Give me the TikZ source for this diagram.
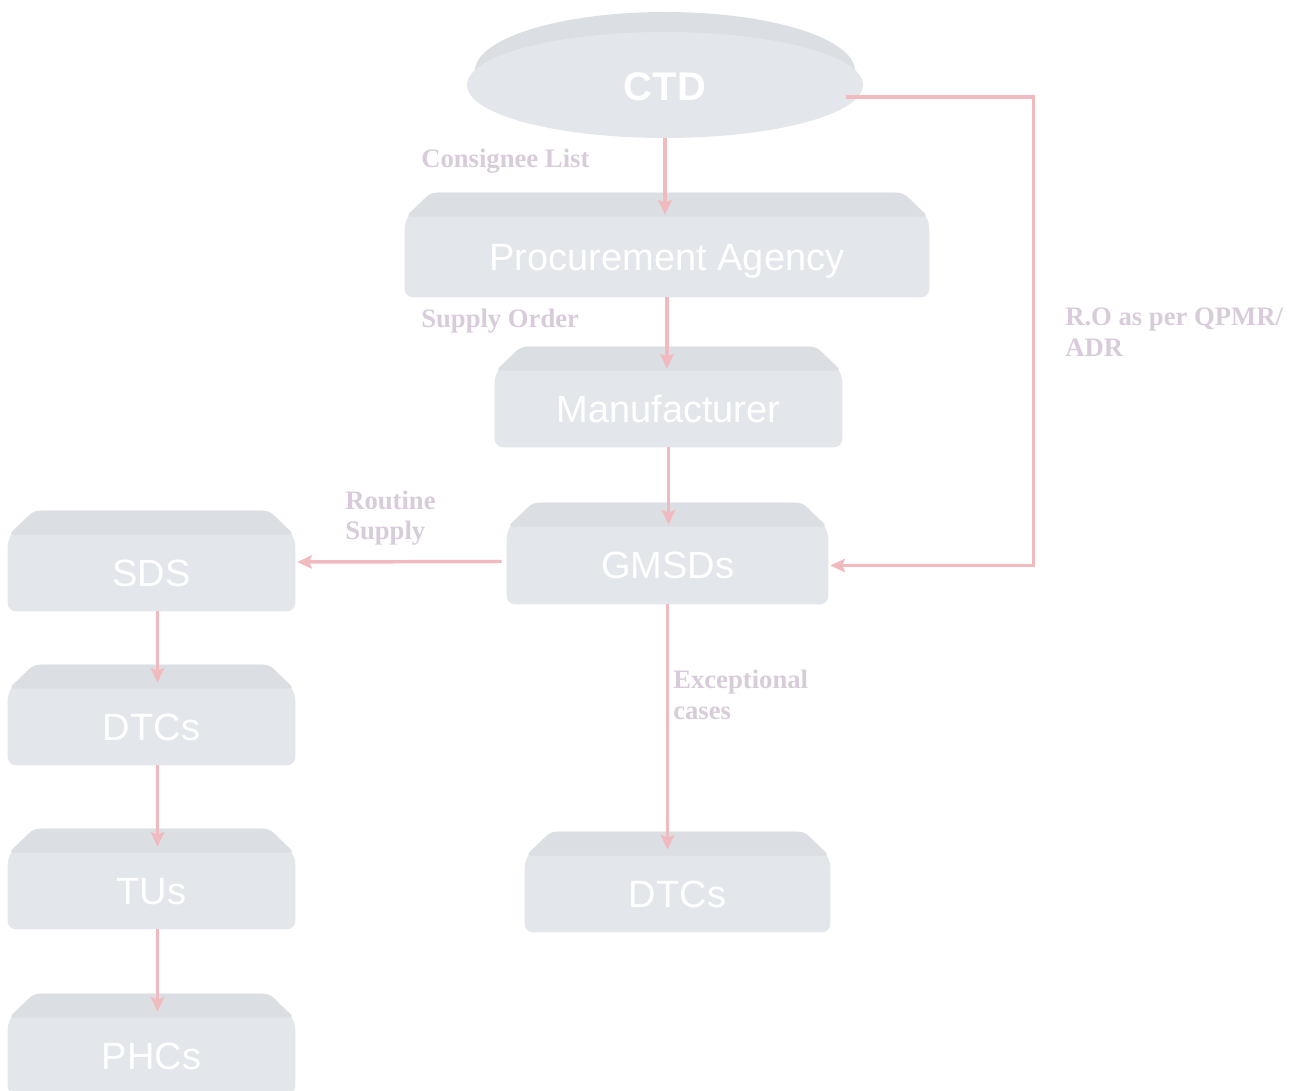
\documentclass[tikz,border=0pt]{standalone}
\usepackage{fontspec}
\setmainfont{Liberation Serif}
\newfontfamily\boxfont{Liberation Sans}
\usetikzlibrary{arrows.meta,calc,backgrounds,shapes.geometric}
\definecolor{boxbody}{RGB}{227,230,234}
\definecolor{boxtop}{RGB}{219,222,226}
\definecolor{arrowpink}{RGB}{241,186,190}
\definecolor{labelcol}{RGB}{216,204,218}
\tikzset{
 flowbox/.style={rectangle, inner sep=0pt, font=\boxfont\fontsize{28.5}{34}\selectfont, text=white, text height=44pt, text depth=6pt},
 ctdnode/.style={ellipse, inner sep=0pt, minimum width=297pt, minimum height=94.5pt, font=\boxfont\bfseries\fontsize{30}{36}\selectfont, text=white, text height=44pt, text depth=6pt},
 arr/.style={draw=arrowpink, line width=2.6pt, -{Stealth[length=11pt,width=10pt,inset=2pt]}},
 lab/.style={font=\bfseries\fontsize{20}{23}\selectfont, text=labelcol, align=left, inner sep=0pt, anchor=west},
}
\newcommand\flowshape[1]{%
 \fill[boxbody, rounded corners=6pt] (#1.south west) -- ($(#1.north west)+(0,27)$) -- ($(#1.north west)+(26,0)$) -- ($(#1.north east)+(-26,0)$) -- ($(#1.north east)+(0,27)$) -- (#1.south east) -- cycle;
 \fill[boxtop, rounded corners=4pt] ($(#1.north west)+(1,24)$) -- ($(#1.north west)+(26,0)$) -- ($(#1.north east)+(-26,0)$) -- ($(#1.north east)+(-1,24)$) -- cycle;
}
\newcommand\mkbox[6]{\node[flowbox, minimum width=#4*0.75pt, minimum height=#5*0.75pt] (#1) at (#2,#3) {#6};}
\begin{document}
\begin{tikzpicture}[x=0.75pt, y=-0.75pt]
\useasboundingbox (0,0) rectangle (1297,1091);
\node[ctdnode] (ctd) at (665,75) {CTD};
\mkbox{pa}{667}{245}{524}{104}{Procurement Agency}
\mkbox{mf}{668.5}{397}{347}{100}{Manufacturer}
\mkbox{gm}{667.5}{553.5}{321}{101}{GMSDs}
\mkbox{sds}{151.5}{561}{287}{100}{SDS}
\mkbox{dtl}{151.5}{715}{287}{100}{DTCs}
\mkbox{tus}{151.5}{879}{287}{100}{TUs}
\mkbox{phc}{151.5}{1044}{287}{100}{PHCs}
\mkbox{dtr}{677.5}{882}{305}{100}{DTCs}
\begin{scope}[on background layer]
 \fill[boxtop] ($(ctd.center)+(0,-4)$) ellipse (190 and 59);
 \fill[boxbody] ($(ctd.center)+(0,10)$) ellipse (198 and 53);
 \foreach \n in {pa,mf,gm,sds,dtl,tus,phc,dtr} {\flowshape{\n}}
\end{scope}
% connectors
\draw[arr] (ctd.south) -- ($(ctd.south |- pa.north)+(0,22)$);
\draw[arr] (pa.south) -- ($(pa.south |- mf.north)+(0,22)$);
\draw[arr] (mf.south) -- ($(mf.south |- gm.north)+(0,22)$);
\draw[arr] ($(gm.west)+(-5,8)$) -- ($(sds.east)+(2,1)$);
\draw[arr] ($(ctd.east)+(-17,22)$) -- ++(187,0) |- ($(gm.east)+(2,12)$);
\draw[arr] (gm.south) -- ($(gm.south |- dtr.north)+(0,18)$);
\draw[arr] ($(sds.south)+(6,0)$) -- ($(dtl.north)+(6,18)$);
\draw[arr] ($(dtl.south)+(6,0)$) -- ($(tus.north)+(6,18)$);
\draw[arr] ($(tus.south)+(6,0)$) -- ($(phc.north)+(6,18)$);
% labels
\node[lab] (l1) at (421,161) {Consignee List};
\node[lab] (l2) at (421,321) {Supply Order};
\node[lab] (l3) at (1065,332) {R.O as per QPMR/\\ADR};
\node[lab] (l4) at (345,518) {Routine\\Supply};
\node[lab] (l5) at (673,695) {Exceptional\\cases};
\end{tikzpicture}
\end{document}
